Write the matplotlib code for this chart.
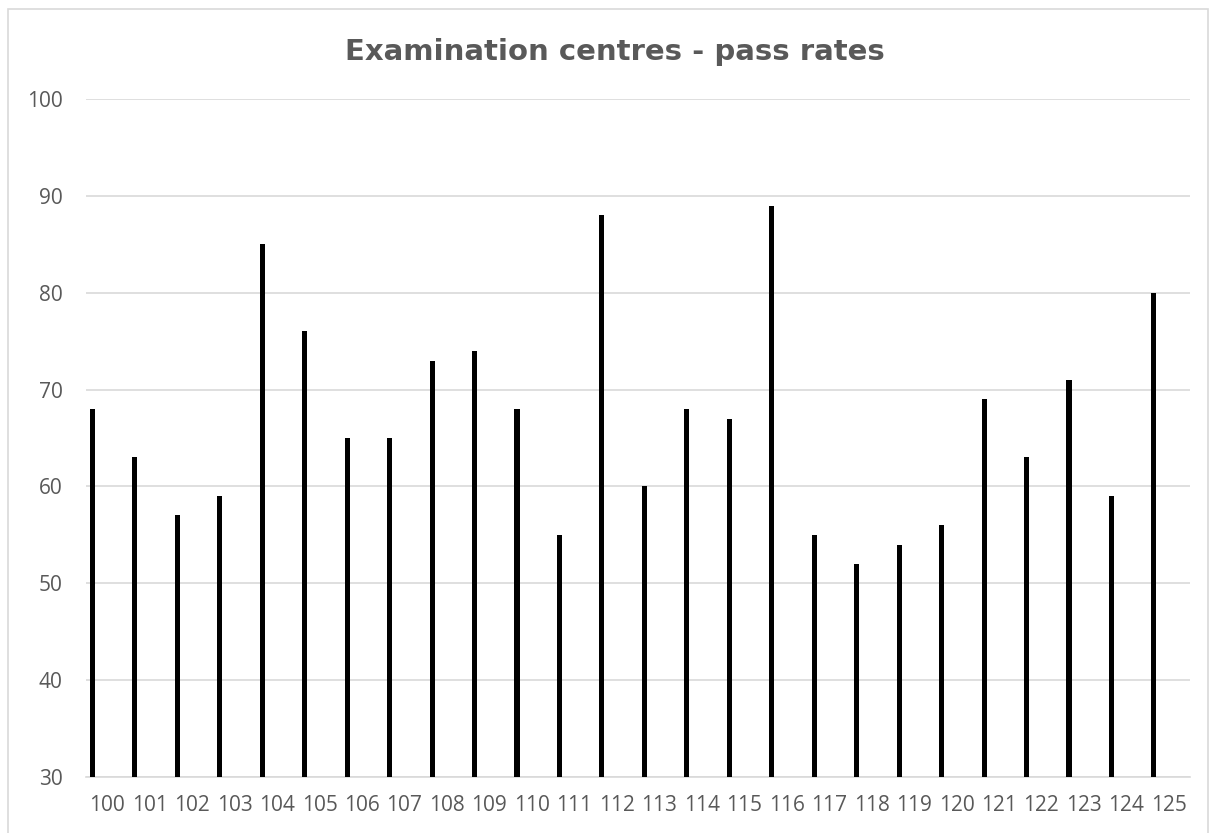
import numpy as np
import matplotlib.pyplot as plt
from matplotlib.patches import Rectangle

centres = [str(c) for c in range(100, 126)]
pass_rates = [68, 63, 57, 59, 85, 76, 65, 65, 73, 74, 68, 55, 88, 60, 68, 67,
              89, 55, 52, 54, 56, 69, 63, 71, 59, 80]

W, H = 1216, 833
fig = plt.figure(figsize=(W / 100, H / 100), dpi=100)
ax = fig.add_axes([86 / W, 56 / H, (1190 - 86) / W, (777 - 99) / H])

x = np.arange(len(centres))
ax.bar(x - 0.35, np.array(pass_rates) - 30, bottom=30, width=0.12, color="black", zorder=3)

ax.set_xlim(-0.5, len(centres) - 0.5)
ax.set_ylim(30, 100)
ax.set_yticks(range(30, 101, 10))
ax.set_xticks(x)
ax.set_xticklabels(centres)
ax.tick_params(length=0, labelsize=15, labelcolor="#595959")
ax.tick_params(axis="x", pad=13)
ax.tick_params(axis="y", pad=17)
for lab in ax.get_xticklabels() + ax.get_yticklabels():
    lab.set_family("Open Sans")
ax.grid(axis="y", color="#d9d9d9", linewidth=1.2, zorder=0)
for s in ["left", "right", "top"]:
    ax.spines[s].set_visible(False)
ax.spines["bottom"].set_color("#d9d9d9")
ax.spines["bottom"].set_linewidth(1.2)

# title sits a little right of the figure centre
fig.text(615 / W, 1 - 52 / H, "Examination centres - pass rates", ha="center", va="center",
         fontsize=21, fontweight="bold", color="#595959", family="DejaVu Sans")

fig.patches.append(Rectangle((8 / W, -0.05), (1208 - 8) / W, 1.05 - 9 / H,
                             transform=fig.transFigure, fill=False,
                             edgecolor="#d9d9d9", linewidth=1.2))

fig.savefig("out.png", dpi=100)
